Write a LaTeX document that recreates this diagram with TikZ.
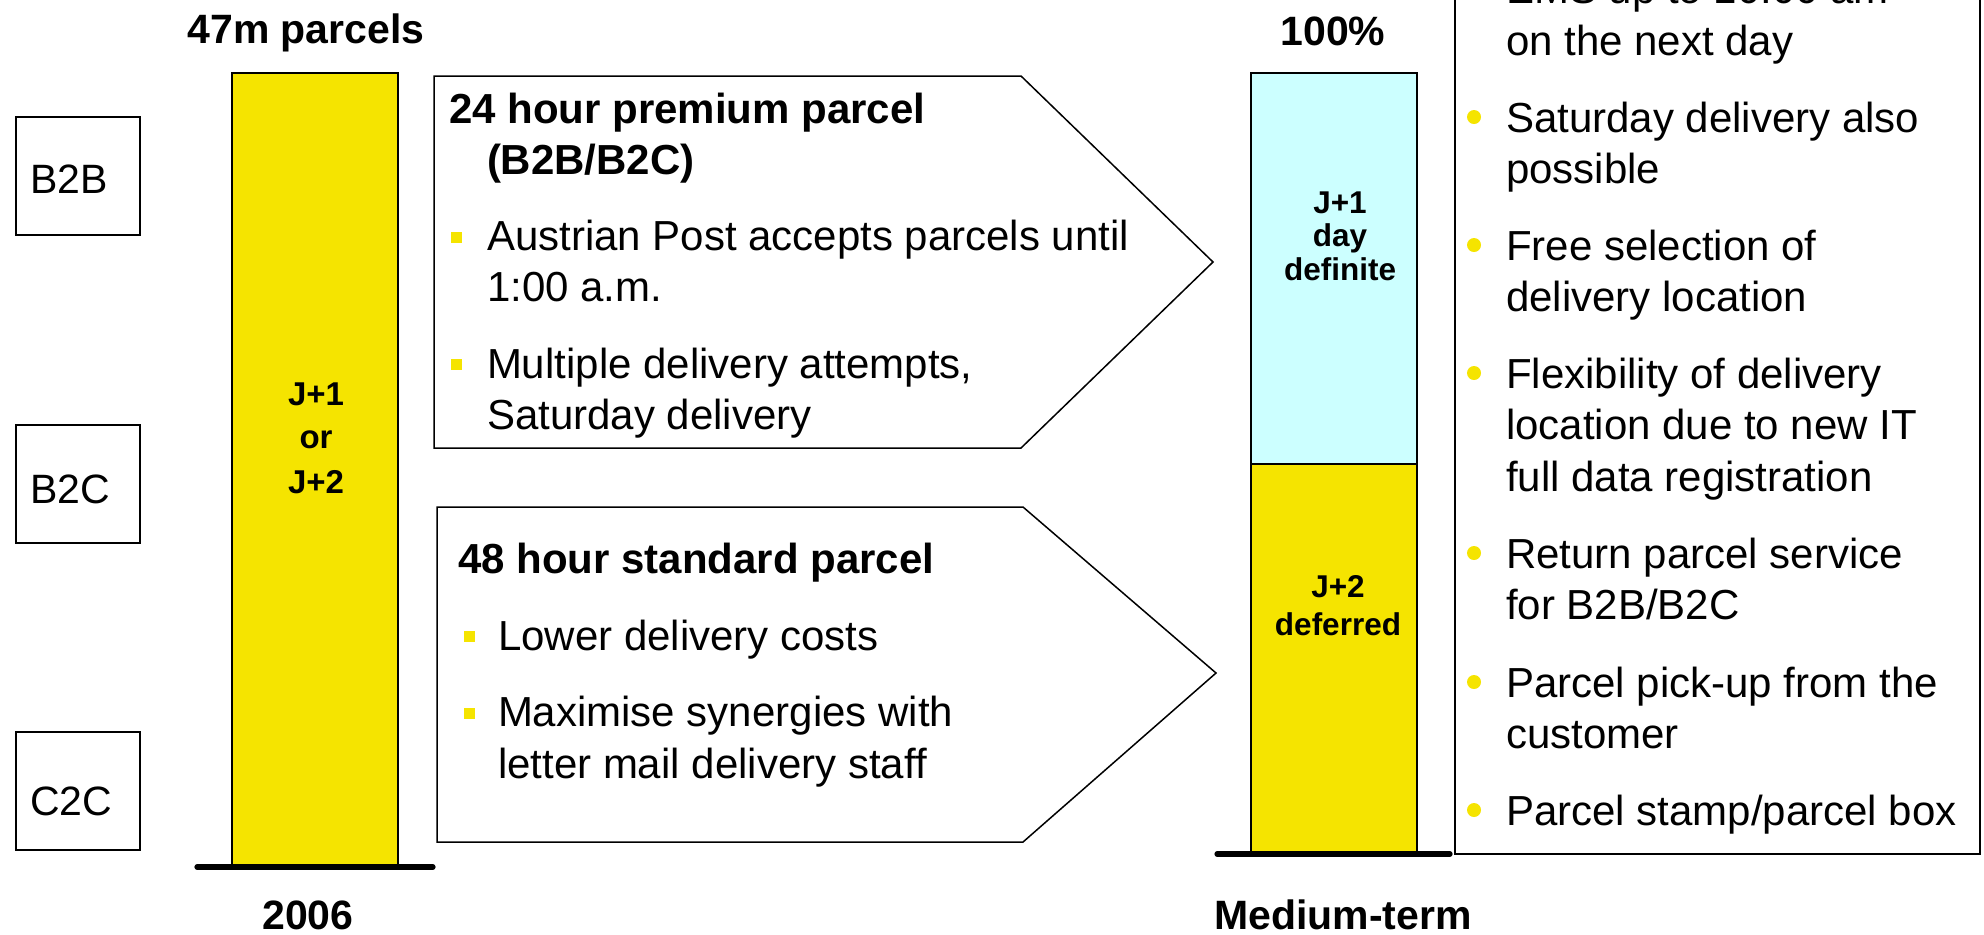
\documentclass[tikz,border=0pt]{standalone}
\usepackage{fontspec}
\setmainfont{Liberation Sans}
\definecolor{pyellow}{RGB}{245,228,0}
\definecolor{pcyan}{RGB}{204,255,255}

\begin{document}
\begin{tikzpicture}[x=0.5pt,y=-0.5pt,
  every node/.style={inner sep=0pt, outer sep=0pt},
  frame/.style={draw=black, line width=1pt},
  arrowframe/.style={draw=black, line width=0.75pt, line join=miter},
  barfill/.style={draw=black, line width=1pt},
  baseline/.style={line width=2.6pt, line cap=round},
  caption/.style={font=\fontsize{20.5}{24}\selectfont\bfseries, anchor=base},
  segtext/.style={font=\fontsize{20.5}{24}\selectfont, anchor=base west},
  barlabel/.style={font=\fontsize{16.5}{22}\selectfont\bfseries, align=center, anchor=base},
  barlabelsm/.style={font=\fontsize{15.75}{16.75}\selectfont\bfseries, align=center, anchor=base},
  head/.style={font=\fontsize{21}{25.5}\selectfont\bfseries, anchor=base west},
  item/.style={font=\fontsize{21}{25.75}\selectfont, anchor=base west, align=left},
  sqbullet/.style={fill=pyellow, minimum width=5.5pt, minimum height=5.5pt},
  dotbullet/.style={circle, fill=pyellow, minimum size=7pt}
]
\useasboundingbox (0,0) rectangle (1984,934);
\clip (0,0) rectangle (1984,934);

% customer segments
\draw[frame] (16,117) rectangle (140,235);
\node[segtext] (b2b) at (30,193) {B2B};
\draw[frame] (16,425) rectangle (140,543);
\node[segtext] (b2c) at (30,503) {B2C};
\draw[frame] (16,732) rectangle (140,850);
\node[segtext] (c2c) at (30,815) {C2C};

% 2006 bar (multi-line nodes are anchored at the baseline of their last line)
\draw[barfill, fill=pyellow] (232,73) rectangle (398,865);
\coordinate (baseLa) at (197,867);
\coordinate (baseLb) at (433,867);
\draw[baseline] (baseLa) -- (baseLb);
\node[caption] (cap47) at (306,43) {47m parcels};
\node[caption] (cap2006) at (308,929) {2006};
\node[barlabel] (jl1) at (316,405) {J+1};
\node[barlabel] (jl2) at (316,448) {or};
\node[barlabel] (jl3) at (316,493) {J+2};

% premium parcel arrow
\draw[arrowframe] (434,76) -- (1021,76) -- (1213,262) -- (1021,448) -- (434,448) -- cycle;
\node[head] (h24) at (449,123) {24 hour premium parcel};
\node[head] (h24b) at (487,174) {(B2B/B2C)};
\node[sqbullet] (s1) at (456,237) {};
\node[item] (p1) at (487,301.5) {Austrian Post accepts parcels until\\1:00 a.m.};
\node[sqbullet] (s2) at (456,364) {};
\node[item] (p2) at (487,429.5) {Multiple delivery attempts,\\Saturday delivery};

% standard parcel arrow
\draw[arrowframe] (437,507) -- (1023,507) -- (1216,673) -- (1023,842) -- (437,842) -- cycle;
\node[head] (h48) at (458,573) {48 hour standard parcel};
\node[sqbullet] (s3) at (469,636) {};
\node[item] (q1) at (498,650) {Lower delivery costs};
\node[sqbullet] (s4) at (469,713) {};
\node[item] (q2) at (498,778) {Maximise synergies with\\letter mail delivery staff};

% medium-term bar
\draw[barfill, fill=pcyan] (1251,73) rectangle (1417,464);
\draw[barfill, fill=pyellow] (1251,464) rectangle (1417,852);
\coordinate (baseRa) at (1217,854);
\coordinate (baseRb) at (1450,854);
\draw[baseline] (baseRa) -- (baseRb);
\node[caption] (cap100) at (1333,45) {100\%};
\node[caption] (capmt) at (1343,929) {Medium-term};
\node[barlabelsm] (jr1) at (1340,280) {J+1\\day\\definite};
\node[barlabelsm, font=\fontsize{15.75}{19}\selectfont\bfseries] (jr2) at (1338,635) {J+2\\deferred};

% service features: name / first baseline / number of lines / text
\draw[frame] (1455,-30) rectangle (1980,854);
\foreach \n/\y/\k/\t in {
  f1/3.5/2/{EMS up to 10:00 am\\on the next day},
  f2/132/2/{Saturday delivery also\\possible},
  f3/260/2/{Free selection of\\delivery location},
  f4/388/3/{Flexibility of delivery\\location due to new IT\\full data registration},
  f5/568/2/{Return parcel service\\for B2B/B2C},
  f6/697/2/{Parcel pick-up from the\\customer},
  f7/825/1/{Parcel stamp/parcel box}} {
  \node[dotbullet] (d\n) at (1474,\y-15) {};
  \node[item] (\n) at (1506,{\y+(\k-1)*51.5}) {\t};
}
\end{tikzpicture}
\end{document}
